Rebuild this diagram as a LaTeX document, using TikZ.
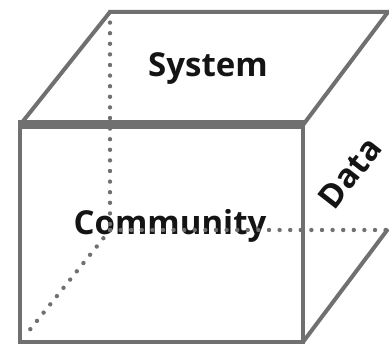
\documentclass[tikz,border=0pt]{standalone}
\usepackage{fontspec}
\setmainfont{Open Sans}
\usepackage{xcolor}
\usetikzlibrary{calc}
\definecolor{edgegray}{RGB}{112,112,112}

\begin{document}
\begin{tikzpicture}[x=1pt,y=1pt,
  edge/.style={draw=edgegray,line width=4pt,line join=miter},
  hidden/.style={draw=edgegray,line width=4.4pt,line cap=round,dash pattern=on 0pt off 10.6pt},
  face/.style={font=\bfseries\fontsize{33}{36}\selectfont,text=black!92,inner sep=0pt}]
  \useasboundingbox (0,0) rectangle (389,345);
  % corners: front face, then back face
  \coordinate (ftl) at (20,220);\coordinate (ftr) at (303,220);
  \coordinate (fbr) at (303,3);\coordinate (fbl) at (20,3);
  \coordinate (btl) at (110,333);\coordinate (btr) at (388,333);
  \coordinate (bbr) at (389,115);\coordinate (bbl) at (110,115);
  % labels
  \node[face,anchor=base] (sys) at (208,268){System};
  \node[face,anchor=base] (com) at (170,110){Community};
  \node[face,rotate=52] (dat) at (350,172){Data};
  % hidden edges
  \draw[hidden] (btl) -- (bbl);
  \draw[hidden,shorten >=8pt] (bbl) -- (fbl);
  \draw[hidden] (bbl) -- (bbr);
  % visible edges
  \draw[edge] (ftl) -- (fbl) -- (fbr) -- (ftr);
  \draw[edge] (ftl) -- (btl) -- (btr) -- (ftr);
  \draw[edge] (fbr) -- ($(fbr)+(85,113)$);
  \draw[draw=edgegray,line width=9pt] ([xshift=-2pt]ftl) -- ([xshift=2pt]ftr);
\end{tikzpicture}
\end{document}
